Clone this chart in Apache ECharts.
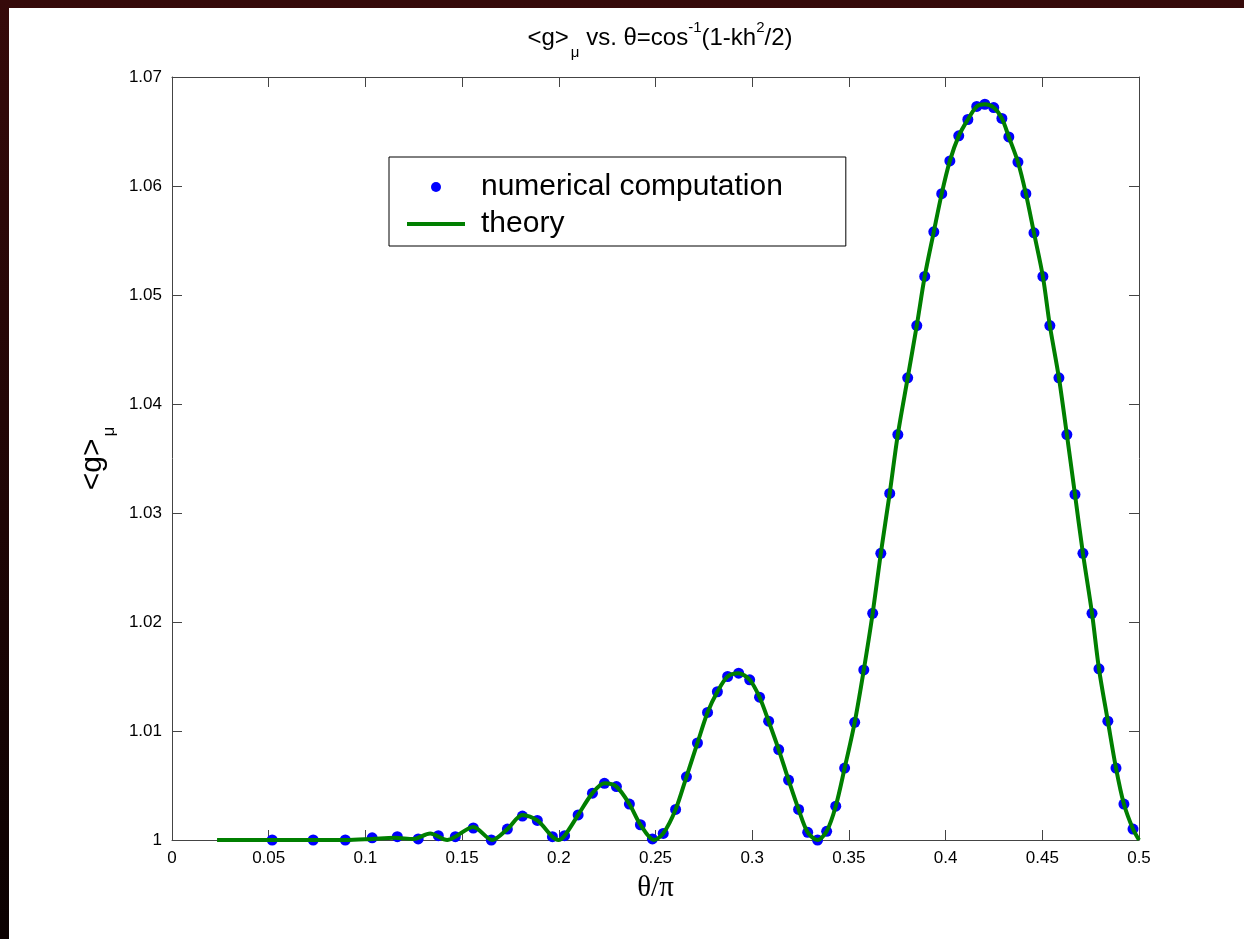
<!DOCTYPE html>
<html>
<head>
<meta charset="utf-8">
<script src="https://cdn.jsdelivr.net/npm/echarts@6/dist/echarts.min.js"></script>
<style>
  html, body { margin: 0; padding: 0; width: 1244px; height: 939px; overflow: hidden;
    background: linear-gradient(#360a0a, #0c0101); }
  #chart { position: absolute; left: 9px; top: 8px; width: 1235px; height: 931px; background: #ffffff; }
</style>
</head>
<body>
<div id="chart"></div>
<script>
// ---- data ----
const thetaDots = [0.0518, 0.073, 0.0896, 0.1035, 0.1165, 0.1273, 0.1377, 0.1465, 0.1558, 0.1651,
  0.1734, 0.1812, 0.1889, 0.1967, 0.203, 0.210, 0.2174, 0.2236, 0.2298, 0.2365,
  0.2422, 0.2484, 0.254, 0.2604, 0.266, 0.2717, 0.2769, 0.282, 0.2873, 0.293,
  0.2987, 0.3038, 0.3085, 0.3137, 0.3188, 0.324, 0.3287, 0.3338, 0.3385, 0.3432,
  0.3478, 0.353, 0.3577, 0.3623, 0.3665, 0.3711, 0.3753, 0.3804, 0.3851, 0.3892,
  0.3939, 0.398, 0.4022, 0.4068, 0.4115, 0.4161, 0.4203, 0.4249, 0.4291, 0.4327,
  0.4374, 0.4415, 0.4457, 0.4503, 0.4539, 0.4586, 0.4627, 0.4669, 0.4710, 0.4757,
  0.4793, 0.4839, 0.4881, 0.4922, 0.4969];
const gDots = [1.0000, 1.0000, 1.0000, 1.0002, 1.0003, 1.0001, 1.0004, 1.0003, 1.0011, 1.0000,
  1.0010, 1.0022, 1.0018, 1.0003, 1.0004, 1.0023, 1.0043, 1.0052, 1.0049, 1.0033,
  1.0014, 1.0001, 1.0006, 1.0028, 1.0058, 1.0089, 1.0117, 1.0136, 1.0150, 1.0153,
  1.0147, 1.0131, 1.0109, 1.0083, 1.0055, 1.0028, 1.0007, 1.0000, 1.0008, 1.0031,
  1.0066, 1.0108, 1.0156, 1.0208, 1.0263, 1.0318, 1.0372, 1.0424, 1.0472, 1.0517,
  1.0558, 1.0593, 1.0623, 1.0646, 1.0661, 1.0673, 1.0675, 1.0672, 1.0662, 1.0645,
  1.0622, 1.0593, 1.0557, 1.0517, 1.0472, 1.0424, 1.0372, 1.0317, 1.0263, 1.0208,
  1.0157, 1.0109, 1.0066, 1.0033, 1.0010];

const thetaTheory = [0.0233, 0.05, 0.075, 0.09, 0.1035, 0.115, 0.125, 0.1335, 0.1423, 0.1465,
  0.1558, 0.1656, 0.1734, 0.1812, 0.1889, 0.1967, 0.1998, 0.203, 0.210, 0.2174,
  0.2236, 0.2298, 0.2365, 0.2422, 0.2492, 0.254, 0.2604, 0.266, 0.2717, 0.2769,
  0.282, 0.2873, 0.293, 0.2987, 0.3038, 0.3085, 0.3137, 0.3188, 0.324, 0.3287,
  0.3338, 0.3385, 0.3432, 0.3478, 0.353, 0.3577, 0.3623, 0.3665, 0.3711, 0.3753,
  0.3804, 0.3851, 0.3892, 0.3939, 0.398, 0.4022, 0.4068, 0.4115, 0.4161, 0.4203,
  0.4249, 0.4291, 0.4327, 0.4374, 0.4415, 0.4457, 0.4503, 0.4539, 0.4586, 0.4627,
  0.4669, 0.4710, 0.4757, 0.4793, 0.4839, 0.4881, 0.4922, 0.4969, 0.5];
const gTheory = [1.0000, 1.0000, 1.0000, 1.0000, 1.0001, 1.0002, 1.0001, 1.0006, 1.0000, 1.0003,
  1.0012, 1.0000, 1.0010, 1.0023, 1.0018, 1.0003, 1.0000, 1.0004, 1.0023, 1.0043,
  1.0052, 1.0049, 1.0033, 1.0014, 1.0000, 1.0006, 1.0028, 1.0058, 1.0089, 1.0117,
  1.0136, 1.0150, 1.0153, 1.0147, 1.0131, 1.0109, 1.0083, 1.0055, 1.0028, 1.0007,
  1.0000, 1.0008, 1.0031, 1.0066, 1.0108, 1.0156, 1.0208, 1.0263, 1.0318, 1.0372,
  1.0424, 1.0472, 1.0517, 1.0558, 1.0593, 1.0623, 1.0646, 1.0661, 1.0673, 1.0675,
  1.0672, 1.0662, 1.0645, 1.0622, 1.0593, 1.0557, 1.0517, 1.0472, 1.0424, 1.0372,
  1.0317, 1.0263, 1.0208, 1.0157, 1.0109, 1.0066, 1.0033, 1.0010, 1.0000];

const xTickLabels = ['0', '0.05', '0.1', '0.15', '0.2', '0.25', '0.3', '0.35', '0.4', '0.45', '0.5'];
const yTickLabels = ['1', '1.01', '1.02', '1.03', '1.04', '1.05', '1.06', '1.07'];

const seriesNames = ['numerical computation', 'theory'];

// ---- chart ----
const dotsData = thetaDots.map((t, i) => [t, gDots[i]]);
const theoryData = thetaTheory.map((t, i) => [t, gTheory[i]]);

const FONT = '"Liberation Sans", Arial, Helvetica, sans-serif';
const axisCol = '#444444';
const BLUE = '#0000ff';
const GREEN = '#007f00';

const chart = echarts.init(document.getElementById('chart'), null, { renderer: 'canvas' });

const baseX = {
  type: 'value', min: 0, max: 0.5, interval: 0.05,
  axisLine: { show: true, onZero: false, lineStyle: { color: axisCol, width: 1 } },
  axisTick: { show: true, inside: true, length: 10, lineStyle: { color: axisCol } },
  splitLine: { show: false }
};
const baseY = {
  type: 'value', min: 1, max: 1.07, interval: 0.01,
  axisLine: { show: true, onZero: false, lineStyle: { color: axisCol, width: 1 } },
  axisTick: { show: true, inside: true, length: 10, lineStyle: { color: axisCol } },
  splitLine: { show: false }
};

chart.setOption({
  animation: false,
  backgroundColor: '#ffffff',
  title: {
    text: '<g>{sub|μ} vs. θ=cos{sup|-1}(1-kh{sup|2}/2)',
    left: 646, top: 13, textAlign: 'center',
    textStyle: {
      fontFamily: FONT, fontSize: 24, fontWeight: 'normal', color: '#000',
      lineHeight: 24,
      rich: {
        sub: { fontFamily: FONT, fontSize: 15, lineHeight: 15, padding: [30, 0, 0, 2], color: '#000' },
        sup: { fontFamily: FONT, fontSize: 15, lineHeight: 15, padding: [0, 0, 20, 0], color: '#000' }
      }
    }
  },
  legend: {
    orient: 'vertical',
    left: 380, top: 149,
    padding: [15, 63, 7, 18],
    itemWidth: 58, itemHeight: 10, itemGap: 7,
    backgroundColor: '#ffffff',
    borderColor: '#000000', borderWidth: 1, borderRadius: 0,
    textStyle: { fontFamily: FONT, fontSize: 30, lineHeight: 30, color: '#000', padding: [0, 0, 0, 11] },
    data: [
      { name: seriesNames[0], icon: 'circle', itemStyle: { color: BLUE, opacity: 1 } },
      { name: seriesNames[1], icon: 'path://M0,0L58,0L58,4L0,4Z', itemStyle: { color: GREEN } }
    ]
  },
  grid: { left: 163, right: 105, top: 69, bottom: 99, containLabel: false },
  xAxis: [
    Object.assign({}, baseX, {
      position: 'bottom',
      name: 'θ/π', nameLocation: 'middle', nameGap: 34,
      nameTextStyle: { fontFamily: '"Liberation Serif", "Times New Roman", serif', fontSize: 29, color: '#000' },
      axisLabel: {
        show: true, margin: 10, color: '#000', fontFamily: FONT, fontSize: 17,
        formatter: v => xTickLabels[Math.round(v / 0.05)]
      }
    }),
    Object.assign({}, baseX, { position: 'top', axisLabel: { show: false } })
  ],
  yAxis: [
    Object.assign({}, baseY, {
      position: 'left',
      name: '<g>{sub|μ}', nameLocation: 'middle', nameGap: 50, nameRotate: 90,
      nameTextStyle: {
        fontFamily: FONT, fontSize: 30, color: '#000', lineHeight: 30,
        rich: { sub: { fontFamily: FONT, fontSize: 17, lineHeight: 17, padding: [34, 0, 0, 2], color: '#000' } }
      },
      axisLabel: {
        show: true, margin: 10, color: '#000', fontFamily: FONT, fontSize: 17,
        formatter: v => yTickLabels[Math.round((v - 1) / 0.01)]
      }
    }),
    Object.assign({}, baseY, { position: 'right', axisLabel: { show: false } })
  ],
  series: [
    {
      name: seriesNames[0], type: 'scatter',
      xAxisIndex: 0, yAxisIndex: 0,
      data: dotsData,
      symbol: 'circle', symbolSize: 11,
      itemStyle: { color: BLUE, opacity: 1 },
      z: 2
    },
    {
      name: seriesNames[1], type: 'line',
      xAxisIndex: 0, yAxisIndex: 0,
      data: theoryData,
      symbol: 'none', showSymbol: false,
      smooth: 0.3,
      lineStyle: { color: GREEN, width: 4 },
      itemStyle: { color: GREEN },
      z: 3
    }
  ]
});
</script>
</body>
</html>
